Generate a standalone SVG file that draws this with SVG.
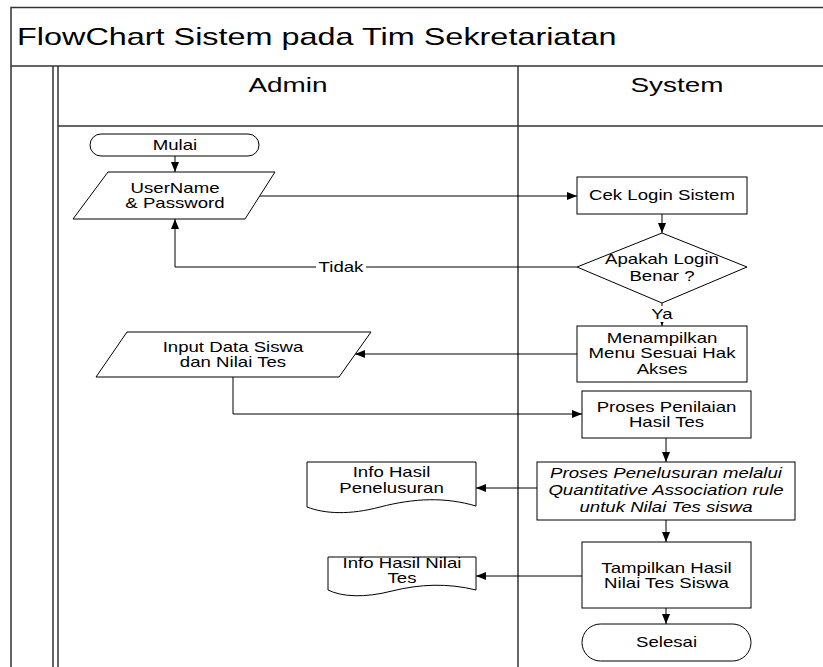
<svg xmlns="http://www.w3.org/2000/svg" width="823" height="667" viewBox="0 0 823 667">
<style>
.frame{fill:none;stroke:#333;stroke-width:1.5}
.shape{fill:#fff;stroke:#000;stroke-width:1}
.conn{fill:none;stroke:#000;stroke-width:1}
.t{font-family:"Liberation Sans",Arial,sans-serif;font-size:14px;fill:#000;text-anchor:middle}
.ti{font-style:italic}
.title{font-family:"Liberation Sans",Arial,sans-serif;font-size:24px;fill:#000}
.hdr{font-family:"Liberation Sans",Arial,sans-serif;font-size:21px;fill:#000;text-anchor:middle}
</style>
<defs>
<marker id="ah" markerWidth="10" markerHeight="8" refX="10" refY="4" orient="auto" markerUnits="userSpaceOnUse"><path d="M0,0 L10,4 L0,8 Z" fill="#000"/></marker>
</defs>
<rect width="823" height="667" fill="#fff"/>
<g id="pool">
<path class="frame" d="M11,667 V7.5 H830"/>
<path class="frame" d="M11,66 H830"/>
<path class="frame" d="M53,66 V667 M58,66 V667"/>
<path class="frame" d="M58,126 H830"/>
<path class="frame" d="M518,66 V667"/>
<text class="title" transform="translate(17,45) scale(1.35,1)">FlowChart Sistem pada Tim Sekretariatan</text>
<text class="hdr" transform="translate(288,92) scale(1.33,1)">Admin</text>
<text class="hdr" transform="translate(677,92) scale(1.33,1)">System</text>
</g>
<g id="connectors">
<path class="conn" d="M175,156 V172" marker-end="url(#ah)"/>
<path class="conn" d="M260,196 H577" marker-end="url(#ah)"/>
<path class="conn" d="M662,214 V233" marker-end="url(#ah)"/>
<path class="conn" d="M577,267 H175 V219" marker-end="url(#ah)"/>
<path class="conn" d="M662,303 V326" marker-end="url(#ah)"/>
<path class="conn" d="M577,354 H355" marker-end="url(#ah)"/>
<path class="conn" d="M233,377 V414 H582" marker-end="url(#ah)"/>
<path class="conn" d="M666,438 V462" marker-end="url(#ah)"/>
<path class="conn" d="M537,488 H476" marker-end="url(#ah)"/>
<path class="conn" d="M666,520 V542" marker-end="url(#ah)"/>
<path class="conn" d="M582,576 H476" marker-end="url(#ah)"/>
<path class="conn" d="M666,608 V624" marker-end="url(#ah)"/>
<rect x="316" y="260" width="50" height="15" fill="#fff"/>
<text class="t" transform="translate(341,272) scale(1.33,1)">Tidak</text>
<rect x="652" y="306" width="20" height="16" fill="#fff"/>
<text class="t" transform="translate(662,319) scale(1.33,1)">Ya</text>
</g>
<g id="mulai">
<rect class="shape" x="90" y="134" width="169" height="22" rx="11"/>
<text class="t" transform="translate(175,150) scale(1.33,1)">Mulai</text>
</g>
<g id="username">
<polygon class="shape" points="108,172 275,172 245,219 73,219"/>
<text class="t" transform="translate(175,193) scale(1.33,1)"><tspan x="0">UserName</tspan><tspan x="0" dy="15">&amp; Password</tspan></text>
</g>
<g id="ceklogin">
<rect class="shape" x="577" y="177" width="170" height="37"/>
<text class="t" transform="translate(662,200) scale(1.33,1)">Cek Login Sistem</text>
</g>
<g id="apakah">
<polygon class="shape" points="662,233 747,267 662,303 577,267"/>
<text class="t" transform="translate(662,264) scale(1.33,1)"><tspan x="0">Apakah Login</tspan><tspan x="0" dy="17">Benar ?</tspan></text>
</g>
<g id="menampilkan">
<rect class="shape" x="577" y="326" width="170" height="56"/>
<text class="t" transform="translate(662,343) scale(1.33,1)"><tspan x="0">Menampilkan</tspan><tspan x="0" dy="15.5">Menu Sesuai Hak</tspan><tspan x="0" dy="15.5">Akses</tspan></text>
</g>
<g id="input">
<polygon class="shape" points="127,332 371,332 339,377 96,377"/>
<text class="t" transform="translate(233,352) scale(1.33,1)"><tspan x="0">Input Data Siswa</tspan><tspan x="0" dy="15">dan Nilai Tes</tspan></text>
</g>
<g id="penilaian">
<rect class="shape" x="582" y="391" width="169" height="47"/>
<text class="t" transform="translate(666.5,412) scale(1.33,1)"><tspan x="0">Proses Penilaian</tspan><tspan x="0" dy="15">Hasil Tes</tspan></text>
</g>
<g id="penelusuran">
<rect class="shape" x="537" y="462" width="258" height="58"/>
<text class="t ti" transform="translate(666,478) scale(1.33,1)"><tspan x="0">Proses Penelusuran melalui</tspan><tspan x="0" dy="17">Quantitative Association rule</tspan><tspan x="0" dy="17">untuk Nilai Tes siswa</tspan></text>
</g>
<g id="infopenelusuran">
<path class="shape" d="M307,462 H476 V506 C445,497 415,498 380,507 C350,515 325,514 307,507 Z"/>
<text class="t" transform="translate(391.5,477) scale(1.33,1)"><tspan x="0">Info Hasil</tspan><tspan x="0" dy="16">Penelusuran</tspan></text>
</g>
<g id="tampilkan">
<rect class="shape" x="582" y="542" width="169" height="66"/>
<text class="t" transform="translate(666.5,573) scale(1.33,1)"><tspan x="0">Tampilkan Hasil</tspan><tspan x="0" dy="15">Nilai Tes Siswa</tspan></text>
</g>
<g id="infonilai">
<path class="shape" d="M328,557 H476 V590 C448,583 420,584 392,591 C365,598 342,597 328,590 Z"/>
<text class="t" transform="translate(402,568) scale(1.33,1)"><tspan x="0">Info Hasil Nilai</tspan><tspan x="0" dy="15">Tes</tspan></text>
</g>
<g id="selesai">
<rect class="shape" x="582" y="624" width="169" height="37" rx="18.5"/>
<text class="t" transform="translate(666.5,647) scale(1.33,1)">Selesai</text>
</g>
</svg>
